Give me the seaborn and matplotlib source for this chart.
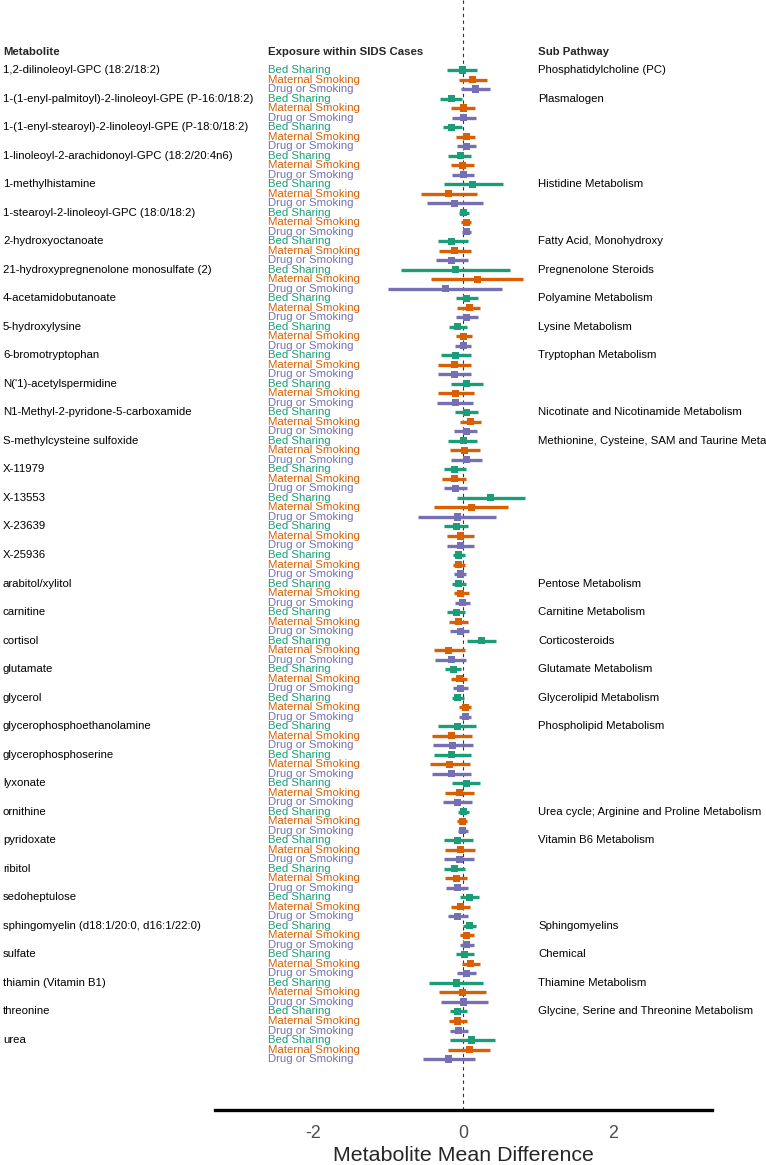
import numpy as np
import pandas as pd
import matplotlib
matplotlib.use("Agg")
import matplotlib.pyplot as plt
import matplotlib.transforms as mtransforms
import seaborn as sns

metabolites = [
    "1,2-dilinoleoyl-GPC (18:2/18:2)",
    "1-(1-enyl-palmitoyl)-2-linoleoyl-GPE (P-16:0/18:2)",
    "1-(1-enyl-stearoyl)-2-linoleoyl-GPE (P-18:0/18:2)",
    "1-linoleoyl-2-arachidonoyl-GPC (18:2/20:4n6)",
    "1-methylhistamine",
    "1-stearoyl-2-linoleoyl-GPC (18:0/18:2)",
    "2-hydroxyoctanoate",
    "21-hydroxypregnenolone monosulfate (2)",
    "4-acetamidobutanoate",
    "5-hydroxylysine",
    "6-bromotryptophan",
    "N('1)-acetylspermidine",
    "N1-Methyl-2-pyridone-5-carboxamide",
    "S-methylcysteine sulfoxide",
    "X-11979",
    "X-13553",
    "X-23639",
    "X-25936",
    "arabitol/xylitol",
    "carnitine",
    "cortisol",
    "glutamate",
    "glycerol",
    "glycerophosphoethanolamine",
    "glycerophosphoserine",
    "lyxonate",
    "ornithine",
    "pyridoxate",
    "ribitol",
    "sedoheptulose",
    "sphingomyelin (d18:1/20:0, d16:1/22:0)",
    "sulfate",
    "thiamin (Vitamin B1)",
    "threonine",
    "urea",
]

sub_pathways = [
    "Phosphatidylcholine (PC)", "Plasmalogen", "", "", "Histidine Metabolism", "",
    "Fatty Acid, Monohydroxy", "Pregnenolone Steroids", "Polyamine Metabolism",
    "Lysine Metabolism", "Tryptophan Metabolism", "",
    "Nicotinate and Nicotinamide Metabolism",
    "Methionine, Cysteine, SAM and Taurine Metabolism", "", "", "", "",
    "Pentose Metabolism", "Carnitine Metabolism", "Corticosteroids",
    "Glutamate Metabolism", "Glycerolipid Metabolism", "Phospholipid Metabolism",
    "", "", "Urea cycle; Arginine and Proline Metabolism", "Vitamin B6 Metabolism",
    "", "", "Sphingomyelins", "Chemical", "Thiamine Metabolism",
    "Glycine, Serine and Threonine Metabolism", "",
]

exposures = ["Bed Sharing", "Maternal Smoking", "Drug or Smoking"]
colors = ["#1B9E77", "#D95F02", "#7570B3"]

# estimate, lower, upper per metabolite for each exposure
bed_est = [-0.01, -0.16, -0.15, -0.04, 0.13, 0.01, -0.15, -0.10, 0.04, -0.07, -0.10, 0.05,
           0.04, 0.00, -0.11, 0.37, -0.09, -0.06, -0.06, -0.09, 0.24, -0.13, -0.07, -0.08,
           -0.15, 0.04, 0.00, -0.07, -0.12, 0.08, 0.08, 0.02, -0.09, -0.07, 0.11]
bed_lo = [-0.21, -0.31, -0.27, -0.20, -0.26, -0.06, -0.34, -0.83, -0.10, -0.19, -0.29, -0.16,
          -0.11, -0.20, -0.26, -0.08, -0.26, -0.13, -0.15, -0.21, 0.05, -0.24, -0.15, -0.33,
          -0.39, -0.15, -0.07, -0.26, -0.26, -0.04, 0.00, -0.10, -0.45, -0.18, -0.18]
bed_hi = [0.18, -0.02, -0.02, 0.11, 0.53, 0.08, 0.06, 0.63, 0.20, 0.05, 0.10, 0.27,
          0.20, 0.19, 0.04, 0.83, 0.07, 0.02, 0.04, 0.03, 0.44, -0.03, 0.01, 0.17,
          0.10, 0.23, 0.08, 0.13, 0.02, 0.21, 0.17, 0.15, 0.26, 0.05, 0.42]

mat_est = [0.13, 0.00, 0.04, -0.01, -0.19, 0.04, -0.12, 0.19, 0.08, 0.01, -0.12, -0.10,
           0.10, 0.02, -0.12, 0.11, -0.04, -0.06, -0.03, -0.06, -0.19, -0.05, 0.03, -0.15,
           -0.18, -0.05, -0.01, -0.04, -0.09, -0.04, 0.05, 0.10, -0.01, -0.07, 0.08]
mat_lo = [-0.05, -0.16, -0.09, -0.16, -0.56, -0.03, -0.32, -0.43, -0.08, -0.10, -0.33, -0.34,
          -0.04, -0.18, -0.28, -0.39, -0.22, -0.13, -0.12, -0.19, -0.39, -0.16, -0.05, -0.42,
          -0.44, -0.24, -0.08, -0.24, -0.24, -0.16, -0.04, -0.02, -0.32, -0.19, -0.20]
mat_hi = [0.32, 0.16, 0.16, 0.14, 0.19, 0.10, 0.10, 0.80, 0.23, 0.12, 0.10, 0.15,
          0.24, 0.23, 0.04, 0.60, 0.14, 0.02, 0.08, 0.06, 0.02, 0.05, 0.11, 0.12,
          0.09, 0.15, 0.05, 0.16, 0.05, 0.09, 0.15, 0.22, 0.30, 0.05, 0.36]

drug_est = [0.16, 0.00, 0.04, 0.00, -0.11, 0.04, -0.16, -0.24, 0.05, 0.00, -0.12, -0.10,
            0.04, 0.04, -0.10, -0.08, -0.03, -0.04, -0.01, -0.04, -0.16, -0.03, 0.03, -0.14,
            -0.16, -0.08, -0.01, -0.05, -0.08, -0.07, 0.04, 0.04, 0.01, -0.06, -0.19]
drug_lo = [-0.03, -0.15, -0.08, -0.15, -0.48, -0.02, -0.36, -1.00, -0.10, -0.11, -0.33, -0.35,
           -0.12, -0.16, -0.26, -0.60, -0.21, -0.12, -0.11, -0.17, -0.37, -0.13, -0.05, -0.40,
           -0.42, -0.27, -0.07, -0.25, -0.23, -0.20, -0.04, -0.08, -0.30, -0.18, -0.54]
drug_hi = [0.36, 0.17, 0.17, 0.15, 0.26, 0.11, 0.06, 0.52, 0.20, 0.10, 0.10, 0.13,
           0.19, 0.25, 0.05, 0.44, 0.15, 0.04, 0.09, 0.08, 0.04, 0.07, 0.11, 0.13,
           0.11, 0.12, 0.06, 0.15, 0.07, 0.06, 0.14, 0.17, 0.33, 0.06, 0.16]

rows = []
for k, (est, lo, hi) in enumerate([(bed_est, bed_lo, bed_hi),
                                   (mat_est, mat_lo, mat_hi),
                                   (drug_est, drug_lo, drug_hi)]):
    for i in range(len(metabolites)):
        rows.append({"metabolite": metabolites[i], "exposure": exposures[k],
                     "row": i * 3 + k, "est": est[i], "lo": lo[i], "hi": hi[i]})
df = pd.DataFrame(rows)

sns.set_style("white")
plt.rcParams["font.family"] = ["Liberation Sans", "DejaVu Sans"]

W, H = 766, 1165
fig = plt.figure(figsize=(W / 100, H / 100), dpi=100)
ax = fig.add_axes([215 / W, (H - 1110) / H, (712 - 215) / W, 1110 / H])

step = 9.51
top_px = 70
ax.set_ylim((1110 - top_px) / step, -top_px / step)
ax.set_xlim(-3.31, 3.32)

ax.axvline(0, color="#333333", lw=0.8, ls=(0, (3, 3)), zorder=1)

pal = dict(zip(exposures, colors))
for exp in exposures:
    sub = df[df["exposure"] == exp]
    ax.hlines(sub["row"], sub["lo"], sub["hi"], color=pal[exp], lw=2.4, zorder=2)
sns.scatterplot(data=df, x="est", y="row", hue="exposure", palette=pal, marker="s",
                s=26, edgecolor="none", legend=False, ax=ax, zorder=3)

for s in ["top", "left", "right"]:
    ax.spines[s].set_visible(False)
ax.spines["bottom"].set_linewidth(2.4)
ax.spines["bottom"].set_color("black")
ax.set_yticks([])
ax.set_xticks([-2, 0, 2])
ax.set_xticklabels(["-2", "0", "2"])
ax.tick_params(axis="x", length=0, pad=11, labelsize=12.8, labelcolor="#4d4d4d")
ax.set_xlabel("Metabolite Mean Difference", fontsize=15.4, labelpad=3)
ax.set_ylabel("")

tr = mtransforms.blended_transform_factory(fig.transFigure, ax.transData)
fs = 8.2
for i, name in enumerate(metabolites):
    y = i * 3
    ax.text(3 / W, y, name, transform=tr, fontsize=fs, va="center", ha="left",
            color="black", clip_on=False)
    if sub_pathways[i]:
        ax.text(538 / W, y, sub_pathways[i], transform=tr, fontsize=fs, va="center",
                ha="left", color="black", clip_on=False)
    for k, exp in enumerate(exposures):
        ax.text(268 / W, y + k, exp, transform=tr, fontsize=fs, va="center", ha="left",
                color=colors[k], clip_on=False)

head_y = (52 - top_px) / step
for xpx, label in [(3, "Metabolite"), (268, "Exposure within SIDS Cases"), (538, "Sub Pathway")]:
    ax.text(xpx / W, head_y, label, transform=tr, fontsize=fs, fontweight="bold",
            va="center", ha="left", clip_on=False)

fig.savefig("out.png", dpi=100)
